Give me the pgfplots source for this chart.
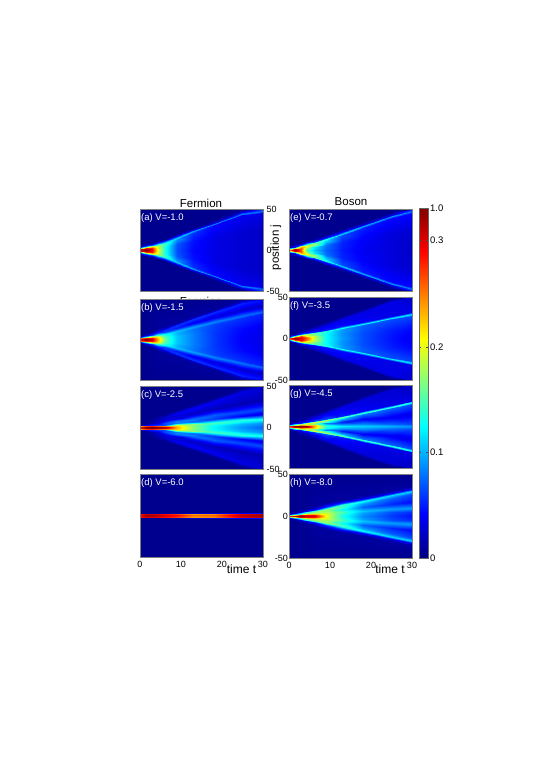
\documentclass[border=0pt]{standalone}
\usepackage{pgfplots}
\usepackage{pgfplotstable}
\pgfplotsset{compat=1.18}
\usepackage{fontspec}
\setmainfont{Liberation Sans}
% c = position on the colour bar (0..1), one line per ray, j>=0 half only
\pgfplotstableread[row sep=\\]{
t j c\\
0 0 .9\\ 1.5 0 1\\ 3 0 .9\\ 4.5 0 .6\\ 6 0 .4\\ 9 0 .2\\ 13 0 .13\\ 18 0 .1\\ 25 0 .08\\ 30 0 .07\\
0 1 .88\\ 1.5 1.2 .97\\ 3 2 .85\\ 4.5 3.2 .58\\ 6 4.5 .4\\ 9 7.5 .21\\ 13 11.5 .14\\ 18 16 .1\\ 25 22 .08\\ 30 24 .07\\
0 2 .7\\ 1.5 2.2 .85\\ 3 3.2 .72\\ 4.5 4.8 .55\\ 6 6.9 .44\\ 9 13 .27\\ 13 21 .17\\ 18 30 .13\\ 25 42.5 .11\\ 30 45 .1\\
0 2.8 .35\\ 1.5 3.2 .55\\ 3 4.6 .58\\ 4.5 6.5 .5\\ 6 9 .42\\ 9 15 .34\\ 13 23 .29\\ 18 32 .27\\ 25 44.5 .26\\ 30 47 .24\\
0 3.5 .1\\ 1.5 4.5 .2\\ 3 6 .2\\ 4.5 8 .2\\ 6 10.5 .18\\ 9 16.5 .14\\ 13 24.5 .12\\ 18 33.5 .1\\ 25 46 .1\\ 30 48.3 .2\\
0 5.5 .015\\ 1.5 7 .015\\ 3 8.5 .015\\ 4.5 10.5 .015\\ 6 13 .015\\ 9 19 .015\\ 13 27 .015\\ 18 36 .015\\ 25 48.5 .02\\ 30 50 .03\\
0 50 .015\\ 1.5 50 .015\\ 3 50 .015\\ 4.5 50 .015\\ 6 50 .015\\ 9 50 .015\\ 13 50 .015\\ 18 50 .015\\ 25 50 .02\\ 30 50 .03\\
}\tabA
\pgfplotstableread[row sep=\\]{
t j c\\
0 0 .88\\ 1.5 0 1\\ 3 0 .93\\ 4.5 0 .7\\ 6 0 .47\\ 9 0 .32\\ 13 0 .25\\ 18 0 .18\\ 25 0 .12\\ 30 0 .1\\
0 1 .85\\ 1.5 1.2 .97\\ 3 1.8 .88\\ 4.5 2.5 .66\\ 6 3.2 .45\\ 9 4.8 .32\\ 13 7 .25\\ 18 9.5 .18\\ 25 13 .13\\ 30 16 .11\\
0 2 .75\\ 1.5 2.2 .85\\ 3 2.9 .7\\ 4.5 3.8 .55\\ 6 5 .42\\ 9 8.5 .3\\ 13 13 .24\\ 18 19 .19\\ 25 27 .17\\ 30 32.5 .16\\
0 2.8 .4\\ 1.5 3.2 .5\\ 3 4 .5\\ 4.5 5.5 .45\\ 6 7 .38\\ 9 10.5 .32\\ 13 15 .29\\ 18 21 .26\\ 25 29 .24\\ 30 34.5 .23\\
0 3.5 .1\\ 1.5 4.2 .2\\ 3 5.5 .2\\ 4.5 7.5 .2\\ 6 9.5 .2\\ 9 14 .15\\ 13 20 .11\\ 18 27.5 .09\\ 25 36.5 .08\\ 30 41.5 .07\\
0 4.2 .03\\ 1.5 5.5 .06\\ 3 7.2 .12\\ 4.5 9.8 .15\\ 6 12.2 .17\\ 9 17.5 .18\\ 13 25 .18\\ 18 33.5 .17\\ 25 45.5 .16\\ 30 49 .14\\
0 6 .015\\ 1.5 7.5 .015\\ 3 9.5 .02\\ 4.5 12.5 .03\\ 6 15 .03\\ 9 20.5 .03\\ 13 28 .03\\ 18 36.5 .03\\ 25 48.5 .03\\ 30 50 .05\\
0 50 .015\\ 1.5 50 .015\\ 3 50 .015\\ 4.5 50 .015\\ 6 50 .015\\ 9 50 .015\\ 13 50 .015\\ 18 50 .015\\ 25 50 .03\\ 30 50 .05\\
}\tabB
\pgfplotstableread[row sep=\\]{
t j c\\
0 0 .88\\ 1.5 0 1\\ 3 0 1\\ 4.5 0 .98\\ 6 0 .97\\ 9 0 .7\\ 13 0 .52\\ 18 0 .37\\ 25 0 .27\\ 30 0 .22\\
0 1.2 .86\\ 1.5 1.2 .98\\ 3 1.2 .98\\ 4.5 1.2 .96\\ 6 1.2 .93\\ 9 1.3 .68\\ 13 2 .5\\ 18 3 .38\\ 25 4 .3\\ 30 5 .27\\
0 2.2 .7\\ 1.5 2.2 .82\\ 3 2.2 .85\\ 4.5 2.2 .8\\ 6 2.3 .75\\ 9 2.7 .6\\ 13 4 .52\\ 18 6 .45\\ 25 8.5 .42\\ 30 10.5 .4\\
0 3 .08\\ 1.5 3 .12\\ 3 3.1 .15\\ 4.5 3.2 .18\\ 6 3.5 .2\\ 9 5 .25\\ 13 7 .24\\ 18 10 .18\\ 25 13.5 .12\\ 30 16 .1\\
0 3.6 .015\\ 1.5 3.7 .06\\ 3 4 .1\\ 4.5 4.6 .13\\ 6 5.5 .2\\ 9 7.5 .25\\ 13 10.5 .24\\ 18 14.5 .22\\ 25 19 .2\\ 30 22 .2\\
0 4.5 .015\\ 1.5 4.8 .02\\ 3 5.5 .04\\ 4.5 7 .06\\ 6 8.5 .09\\ 9 12 .08\\ 13 16.5 .07\\ 18 22 .06\\ 25 28.5 .05\\ 30 33 .05\\
0 5.5 .015\\ 1.5 6 .015\\ 3 8 .03\\ 4.5 10.5 .06\\ 6 12.5 .08\\ 9 17 .11\\ 13 23.5 .12\\ 18 31.5 .11\\ 25 43 .1\\ 30 50 .08\\
0 7 .015\\ 1.5 8.5 .015\\ 3 11 .015\\ 4.5 14 .015\\ 6 16 .015\\ 9 21 .015\\ 13 27.5 .015\\ 18 35.5 .015\\ 25 47 .015\\ 30 50 .015\\
0 50 .015\\ 1.5 50 .015\\ 3 50 .015\\ 4.5 50 .015\\ 6 50 .015\\ 9 50 .015\\ 13 50 .015\\ 18 50 .015\\ 25 50 .015\\ 30 50 .015\\
}\tabC
\pgfplotstableread[row sep=\\]{
t j c\\
0 0 .9\\ 1.5 0 .98\\ 3 0 .97\\ 4.5 0 .95\\ 6 0 .92\\ 9 0 .88\\ 13 0 .77\\ 18 0 .78\\ 25 0 .95\\ 30 0 .99\\
0 1.8 .85\\ 1.5 1.8 .92\\ 3 1.8 .92\\ 4.5 1.8 .9\\ 6 1.8 .87\\ 9 1.8 .82\\ 13 1.8 .72\\ 18 1.8 .74\\ 25 1.8 .9\\ 30 1.8 .93\\
0 2.6 .25\\ 1.5 2.6 .3\\ 3 2.6 .3\\ 4.5 2.6 .3\\ 6 2.6 .3\\ 9 2.6 .32\\ 13 2.6 .33\\ 18 2.6 .33\\ 25 2.6 .35\\ 30 2.6 .35\\
0 3.4 .02\\ 1.5 3.4 .02\\ 3 3.4 .03\\ 4.5 3.4 .03\\ 6 3.4 .03\\ 9 3.4 .04\\ 13 3.4 .08\\ 18 3.4 .1\\ 25 3.4 .12\\ 30 3.4 .14\\
0 4.5 .015\\ 1.5 4.5 .015\\ 3 4.5 .015\\ 4.5 4.5 .015\\ 6 4.5 .015\\ 9 4.5 .015\\ 13 4.5 .015\\ 18 4.5 .015\\ 25 4.5 .015\\ 30 4.5 .015\\
0 50 .015\\ 1.5 50 .015\\ 3 50 .015\\ 4.5 50 .015\\ 6 50 .015\\ 9 50 .015\\ 13 50 .015\\ 18 50 .015\\ 25 50 .015\\ 30 50 .015\\
}\tabD
\pgfplotstableread[row sep=\\]{
t j c\\
0 0 .75\\ 1.5 0 .98\\ 3 0 .78\\ 4.5 0 .42\\ 6 0 .32\\ 9 0 .22\\ 13 0 .15\\ 18 0 .11\\ 25 0 .09\\ 30 0 .07\\
0 .8 .7\\ 1.5 1 .95\\ 3 1.8 .8\\ 4.5 2.8 .5\\ 6 3.8 .36\\ 9 6.5 .24\\ 13 10 .16\\ 18 14 .12\\ 25 20 .09\\ 30 23 .08\\
0 1.8 .45\\ 1.5 2 .85\\ 3 3 .78\\ 4.5 4.6 .6\\ 6 6.5 .52\\ 9 11.5 .33\\ 13 18 .2\\ 18 27 .15\\ 25 39 .13\\ 30 45 .13\\
0 2.5 .2\\ 1.5 3 .55\\ 3 4.4 .62\\ 4.5 6.4 .56\\ 6 8.5 .5\\ 9 13.5 .42\\ 13 20 .34\\ 18 29 .3\\ 25 41 .28\\ 30 47 .25\\
0 3.2 .05\\ 1.5 4.2 .15\\ 3 5.9 .18\\ 4.5 8 .2\\ 6 10.2 .2\\ 9 15 .17\\ 13 21.5 .13\\ 18 30.5 .11\\ 25 42.5 .1\\ 30 48.5 .18\\
0 5 .015\\ 1.5 7 .015\\ 3 8.5 .015\\ 4.5 11 .015\\ 6 13.5 .015\\ 9 18 .015\\ 13 25 .015\\ 18 34 .015\\ 25 46 .015\\ 30 50 .03\\
0 50 .015\\ 1.5 50 .015\\ 3 50 .015\\ 4.5 50 .015\\ 6 50 .015\\ 9 50 .015\\ 13 50 .015\\ 18 50 .015\\ 25 50 .015\\ 30 50 .03\\
}\tabE
\pgfplotstableread[row sep=\\]{
t j c\\
0 0 .8\\ 1.5 0 .98\\ 3 0 .9\\ 4.5 0 .78\\ 6 0 .58\\ 9 0 .38\\ 13 0 .28\\ 18 0 .2\\ 25 0 .14\\ 30 0 .11\\
0 .8 .75\\ 1.5 1.2 .95\\ 3 1.7 .88\\ 4.5 2.2 .74\\ 6 2.7 .56\\ 9 3.5 .38\\ 13 5 .27\\ 18 7 .2\\ 25 10 .15\\ 30 12 .13\\
0 1.6 .45\\ 1.5 2 .8\\ 3 2.7 .8\\ 4.5 3.6 .62\\ 6 4.6 .5\\ 9 7.2 .38\\ 13 11.2 .28\\ 18 16.2 .22\\ 25 23 .2\\ 30 27.5 .19\\
0 2.4 .15\\ 1.5 2.9 .45\\ 3 3.9 .6\\ 4.5 5 .55\\ 6 6.3 .48\\ 9 9 .42\\ 13 13 .4\\ 18 18 .38\\ 25 25 .37\\ 30 29.5 .36\\
0 3.2 .02\\ 1.5 4.2 .12\\ 3 5.5 .2\\ 4.5 7 .18\\ 6 8 .15\\ 9 10.8 .15\\ 13 15 .14\\ 18 20 .12\\ 25 27 .1\\ 30 31.5 .1\\
0 4.5 .015\\ 1.5 5.5 .02\\ 3 7.5 .05\\ 4.5 9.5 .07\\ 6 11.5 .09\\ 9 16 .1\\ 13 23 .1\\ 18 32.5 .1\\ 25 45 .1\\ 30 50 .07\\
0 6 .015\\ 1.5 8 .015\\ 3 10.5 .015\\ 4.5 13 .015\\ 6 15 .015\\ 9 20 .015\\ 13 27 .015\\ 18 36 .015\\ 25 48 .015\\ 30 50 .015\\
0 50 .015\\ 1.5 50 .015\\ 3 50 .015\\ 4.5 50 .015\\ 6 50 .015\\ 9 50 .015\\ 13 50 .015\\ 18 50 .015\\ 25 50 .015\\ 30 50 .015\\
}\tabF
\pgfplotstableread[row sep=\\]{
t j c\\
0 0 .8\\ 1.5 0 .98\\ 3 0 1\\ 4.5 0 .97\\ 6 0 .72\\ 9 0 .42\\ 13 0 .36\\ 18 0 .33\\ 25 0 .3\\ 30 0 .27\\
0 1 .75\\ 1.5 1 .92\\ 3 1.1 .94\\ 4.5 1.3 .9\\ 6 1.4 .68\\ 9 1.8 .38\\ 13 2 .3\\ 18 2.5 .26\\ 25 3 .22\\ 30 3.5 .2\\
0 1.8 .5\\ 1.5 1.8 .75\\ 3 2 .75\\ 4.5 2.4 .68\\ 6 2.8 .5\\ 9 4 .25\\ 13 6 .15\\ 18 9 .12\\ 25 12 .11\\ 30 15 .1\\
0 2.2 .3\\ 1.5 2.3 .55\\ 3 2.6 .58\\ 4.5 3.1 .58\\ 6 3.8 .55\\ 9 5.7 .42\\ 13 9.5 .3\\ 18 15 .24\\ 25 22.5 .22\\ 30 27.5 .2\\
0 2.6 .1\\ 1.5 2.8 .35\\ 3 3.3 .55\\ 4.5 4 .6\\ 6 5 .6\\ 9 7.5 .55\\ 13 11 .5\\ 18 16.5 .47\\ 25 24 .45\\ 30 29 .42\\
0 3.2 .02\\ 1.5 3.8 .1\\ 3 4.7 .15\\ 4.5 6 .15\\ 6 7 .18\\ 9 9.5 .2\\ 13 12.8 .15\\ 18 18.3 .12\\ 25 26 .1\\ 30 31 .1\\
0 4 .015\\ 1.5 5.5 .02\\ 3 7.5 .04\\ 4.5 9.5 .06\\ 6 11.5 .08\\ 9 16 .1\\ 13 23.5 .1\\ 18 33 .09\\ 25 45 .08\\ 30 50 .06\\
0 6 .015\\ 1.5 8 .015\\ 3 10.5 .015\\ 4.5 13 .015\\ 6 15 .015\\ 9 20 .015\\ 13 27.5 .015\\ 18 37 .015\\ 25 48 .015\\ 30 50 .015\\
0 50 .015\\ 1.5 50 .015\\ 3 50 .015\\ 4.5 50 .015\\ 6 50 .015\\ 9 50 .015\\ 13 50 .015\\ 18 50 .015\\ 25 50 .015\\ 30 50 .015\\
}\tabG
\pgfplotstableread[row sep=\\]{
t j c\\
0 0 .8\\ 1.5 0 .97\\ 3 0 .98\\ 4.5 0 .93\\ 6 0 .93\\ 9 0 .62\\ 13 0 .4\\ 18 0 .26\\ 25 0 .18\\ 30 0 .14\\
0 .9 .72\\ 1.5 1 .9\\ 3 1.2 .92\\ 4.5 1.4 .88\\ 6 1.6 .88\\ 9 2 .6\\ 13 2.5 .42\\ 18 3.5 .28\\ 25 4.5 .2\\ 30 5 .17\\
0 1.6 .4\\ 1.5 1.7 .65\\ 3 1.9 .7\\ 4.5 2.2 .68\\ 6 2.6 .7\\ 9 3.5 .58\\ 13 5 .45\\ 18 6.5 .32\\ 25 8.5 .28\\ 30 9.5 .28\\
0 2 .25\\ 1.5 2.1 .45\\ 3 2.4 .5\\ 4.5 3 .5\\ 6 3.6 .55\\ 9 5.5 .52\\ 13 8 .38\\ 18 11 .22\\ 25 14.5 .16\\ 30 17 .13\\
0 2.3 .12\\ 1.5 2.5 .3\\ 3 2.9 .45\\ 4.5 3.6 .48\\ 6 4.5 .52\\ 9 7 .55\\ 13 10 .42\\ 18 14.5 .27\\ 25 21 .22\\ 30 26 .2\\
0 2.7 .05\\ 1.5 3 .2\\ 3 3.6 .35\\ 4.5 4.5 .42\\ 6 5.5 .45\\ 9 8.5 .5\\ 13 12.5 .45\\ 18 17.5 .38\\ 25 24.5 .34\\ 30 29.5 .34\\
0 3.5 .02\\ 1.5 4 .05\\ 3 5 .1\\ 4.5 6 .12\\ 6 7.5 .15\\ 9 11 .18\\ 13 15 .17\\ 18 20 .13\\ 25 27 .1\\ 30 32 .1\\
0 4.5 .015\\ 1.5 6 .015\\ 3 7.5 .02\\ 4.5 9 .02\\ 6 11 .03\\ 9 15 .03\\ 13 19 .03\\ 18 24 .03\\ 25 31 .03\\ 30 36 .03\\
0 50 .015\\ 1.5 50 .015\\ 3 50 .015\\ 4.5 50 .015\\ 6 50 .015\\ 9 50 .015\\ 13 50 .015\\ 18 50 .015\\ 25 50 .015\\ 30 50 .015\\
}\tabH
\pgfplotstableread[row sep=\\]{
x y c\\
0 0 0\\ 1 0 0\\
0 1 1\\ 1 1 1\\
}\tabBar
\pgfplotsset{
  panel/.style={width=123pt,scale only axis,anchor=south west,
    xmin=0,xmax=30,ymin=-50,ymax=50,xtick=\empty,ytick=\empty,axis on top,
    point meta min=0,point meta max=1,colormap/jet,
    axis line style={gray,line width=0.3pt},
    major tick length=0pt,
    /pgf/number format/assume math mode=true,
    tick label style={font=\fontsize{9}{10}\selectfont},
    mesh/cols=10},
  ylabR/.style={ytick={-50,0,50},yticklabel pos=right,
    yticklabel style={inner xsep=0pt,xshift=3.5pt}},
  ylabL/.style={ytick={-50,0,50},yticklabel pos=left,
    yticklabel style={inner xsep=0pt,xshift=-1pt}},
  xlab/.style={xtick={0,10,20,30},xticklabel style={inner ysep=0pt,yshift=-4pt}},
}
\newcommand\both[1]{%
  \addplot[surf,shader=interp,point meta=\thisrow{c}] table[x=t,y=j] {#1};
  \addplot[surf,shader=interp,point meta=\thisrow{c}] table[x=t,y expr=-\thisrow{j}] {#1};
}
\newcommand\tag[1]{\node[white,anchor=north west,inner sep=0pt,font=\fontsize{9.5}{10}\selectfont] at (rel axis cs:0.008,0.95) {#1};}
\begin{document}
\begin{tikzpicture}
\path (0pt,0pt) rectangle (554pt,784pt);
\begin{axis}[panel,at={(140pt,493pt)},height=82pt,ylabR]
\both\tabA
\tag{(a) V=-1.0}
\end{axis}
\node[font=\fontsize{11.5}{12}\selectfont] at (201pt,482.5pt) {Fermion};
\begin{axis}[panel,at={(140pt,404pt)},height=81pt]
\both\tabB
\tag{(b) V=-1.5}
\end{axis}
\begin{axis}[panel,at={(140pt,315pt)},height=83pt,ylabR]
\both\tabC
\tag{(c) V=-2.5}
\end{axis}
\begin{axis}[panel,at={(140pt,227pt)},height=83pt,xlab]
\both\tabD
\tag{(d) V=-6.0}
\end{axis}
\begin{axis}[panel,at={(289pt,493pt)},height=82pt]
\both\tabE
\tag{(e) V=-0.7}
\end{axis}
\begin{axis}[panel,at={(289pt,404pt)},height=83pt,ylabL]
\both\tabF
\tag{(f) V=-3.5}
\end{axis}
\begin{axis}[panel,at={(289pt,316pt)},height=83pt]
\both\tabG
\tag{(g) V=-4.5}
\end{axis}
\begin{axis}[panel,at={(289pt,226pt)},height=84pt,ylabL,xlab]
\both\tabH
\tag{(h) V=-8.0}
\end{axis}
\begin{axis}[width=9pt,height=350pt,scale only axis,anchor=south west,at={(419pt,226pt)},
    xmin=0,xmax=1,ymin=0,ymax=1,xtick=\empty,axis on top,
    point meta min=0,point meta max=1,colormap/jet,mesh/cols=2,
    ytick={0,.303,.603,.909,1},yticklabels={0,0.1,0.2,0.3,1.0},
    yticklabel pos=right,tick align=inside,major tick length=2pt,
    tick style={black!70,line width=0.3pt},ytick pos=both,
    axis line style={black!60,line width=0.3pt},
    /pgf/number format/assume math mode=true,
    yticklabel style={font=\fontsize{9.5}{10}\selectfont,inner xsep=0pt,xshift=2pt}]
\addplot[surf,shader=interp,point meta=\thisrow{c}] table[x=x,y=y] {\tabBar};
\end{axis}
\node[font=\fontsize{11.5}{12}\selectfont] at (201pt,581pt) {Fermion};
\node[font=\fontsize{11.5}{12}\selectfont] at (351pt,582pt) {Boson};
\node[font=\fontsize{11.5}{12}\selectfont,rotate=90] at (276pt,536.5pt) {position j};
\node[font=\fontsize{12}{13}\selectfont,inner sep=0pt] at (241.5pt,215pt) {time t};
\node[font=\fontsize{12}{13}\selectfont,inner sep=0pt] at (390pt,215pt) {time t};
\end{tikzpicture}
\end{document}
